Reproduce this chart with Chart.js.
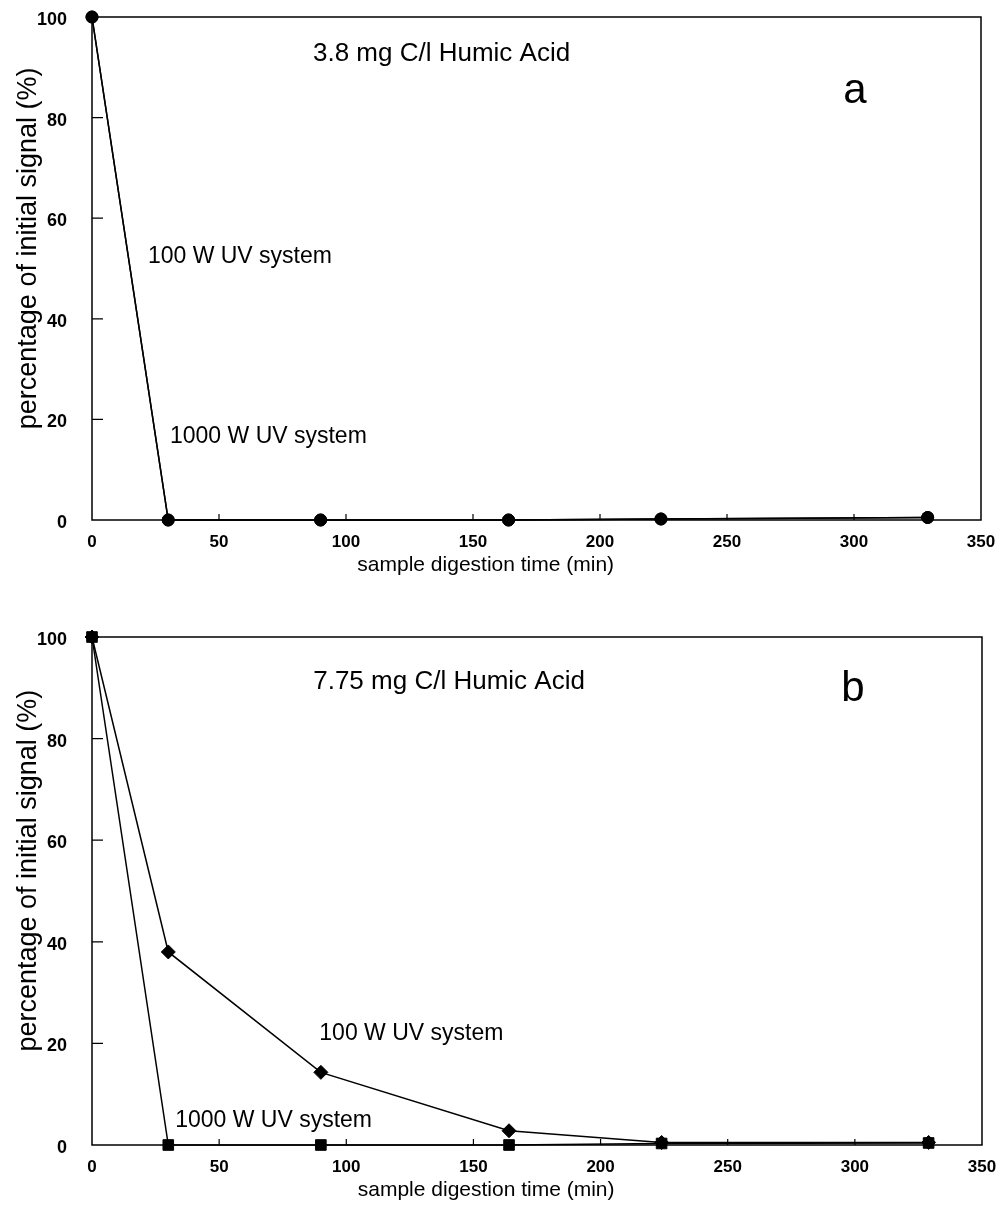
<!DOCTYPE html>
<html><head><meta charset="utf-8">
<script src="https://cdn.jsdelivr.net/npm/chart.js@4.4.0/dist/chart.umd.min.js"></script>
<style>
html,body{margin:0;padding:0;background:#fff;}
#wrap{position:relative;width:1004px;height:1223px;background:#fff;}
.pane{position:absolute;left:0;width:1004px;}
</style></head><body>
<div id="wrap">
  <div class="pane" style="top:0;height:600px"><canvas id="ca"></canvas></div>
  <div class="pane" style="top:600px;height:623px"><canvas id="cb"></canvas></div>
</div>
<script>
// ---- data ----
const digestionTime = [0, 30, 90, 164, 224, 329];
const a100W  = [100, 0, 0, 0, 0.2, 0.5];
const a1000W = [100, 0, 0, 0, 0.2, 0.5];
const b100W  = [100, 38, 14.3, 2.8, 0.5, 0.5];
const b1000W = [100, 0, 0, 0, 0.3, 0.4];
const xTickValues = [0, 50, 100, 150, 200, 250, 300, 350];
const yTickValues = [0, 20, 40, 60, 80, 100];
const xTitle = 'sample digestion time (min)';
const yTitle = 'percentage of initial signal (%)';

const FONT = "'Liberation Sans', Arial, Helvetica, sans-serif";

function pts(xs, ys) { return xs.map((x, i) => ({x: x, y: ys[i]})); }

function decorPlugin(notes) {
  return {
    id: 'decor',
    beforeDatasetsDraw(chart) {
      const {ctx, chartArea: ca, scales: {x, y}} = chart;
      ctx.save();
      ctx.strokeStyle = '#000';
      ctx.lineWidth = 1.5;
      ctx.strokeRect(ca.left, ca.top, ca.right - ca.left, ca.bottom - ca.top);
      ctx.lineWidth = 1.2;
      ctx.beginPath();
      x.ticks.forEach(t => {
        if (t.value > x.min && t.value < x.max) {
          const px = x.getPixelForValue(t.value);
          ctx.moveTo(px, ca.bottom); ctx.lineTo(px, ca.bottom - 6);
        }
      });
      y.ticks.forEach(t => {
        if (t.value > y.min && t.value < y.max) {
          const py = y.getPixelForValue(t.value);
          ctx.moveTo(ca.left, py); ctx.lineTo(ca.left + 11, py);
        }
      });
      ctx.stroke();
      ctx.restore();
    },
    afterDraw(chart) {
      const {ctx, chartArea: ca, scales: {x, y}} = chart;
      ctx.save();
      ctx.fillStyle = '#000';
      notes.forEach(n => {
        ctx.font = n.size + 'px ' + FONT;
        ctx.textAlign = n.align || 'left';
        ctx.textBaseline = 'alphabetic';
        ctx.fillText(n.text, x.getPixelForValue(n.x), y.getPixelForValue(n.y));
      });
      // axis titles
      ctx.font = '21px ' + FONT;
      ctx.textAlign = 'center';
      ctx.fillText(xTitle, x.getPixelForValue(155), ca.bottom + 51);
      ctx.translate(36, y.getPixelForValue(54));
      ctx.rotate(-Math.PI / 2);
      ctx.font = '27px ' + FONT;
      ctx.fillText(yTitle, 0, 0);
      ctx.restore();
    }
  };
}

function makeChart(id, s100, s1000, marker100, marker1000, r100, r1000, pad, xAxisH, notes) {
  const ds = (data, style, r) => ({
    data: pts(digestionTime, data),
    borderColor: '#000', backgroundColor: '#000',
    borderWidth: 1.5, tension: 0,
    pointStyle: style, pointRadius: r, pointHoverRadius: r,
    pointBorderWidth: 1, clip: false
  });
  return new Chart(document.getElementById(id), {
    type: 'line',
    data: { datasets: [ ds(s100, marker100, r100), ds(s1000, marker1000, r1000) ] },
    options: {
      responsive: true, maintainAspectRatio: false, animation: false,
      layout: { padding: pad },
      plugins: { legend: {display: false}, tooltip: {enabled: false} },
      scales: {
        x: {
          type: 'linear', min: 0, max: 350,
          afterBuildTicks: s => { s.ticks = xTickValues.map(v => ({value: v})); },
          afterFit: s => { s.height = xAxisH; },
          grid: {display: false, drawTicks: true, tickLength: 12},
          border: {display: false},
          ticks: { color: '#000', padding: 0, maxRotation: 0, autoSkip: false,
                   font: {family: FONT, size: 17, weight: 'bold'} }
        },
        y: {
          type: 'linear', min: 0, max: 100,
          afterBuildTicks: s => { s.ticks = yTickValues.map(v => ({value: v})); },
          afterFit: s => { s.width = 92; },
          grid: {display: false, drawTicks: true, tickLength: 25},
          border: {display: false},
          ticks: { color: '#000', padding: 0, labelOffset: 3, autoSkip: false,
                   font: {family: FONT, size: 18, weight: 'bold'} }
        }
      }
    },
    plugins: [decorPlugin(notes)]
  });
}

makeChart('ca', a100W, a1000W, 'circle', 'circle', 6, 6,
  {top: 17, right: 23, left: 0, bottom: 0}, 80, [
    {text: '3.8 mg C/l Humic Acid', x: 87, y: 91.3, size: 26},
    {text: 'a', x: 300.4, y: 82.9, size: 42, align: 'center'},
    {text: '100 W UV system', x: 22, y: 51.1, size: 23},
    {text: '1000 W UV system', x: 30.7, y: 15.3, size: 23}
  ]);

makeChart('cb', b100W, b1000W, 'rectRot', 'rect', 7, 7.5,
  {top: 37, right: 22, left: 0, bottom: 0}, 78, [
    {text: '7.75 mg C/l Humic Acid', x: 87, y: 89.8, size: 26},
    {text: 'b', x: 299.2, y: 87.5, size: 42, align: 'center'},
    {text: '100 W UV system', x: 89.4, y: 20.7, size: 23},
    {text: '1000 W UV system', x: 32.7, y: 3.5, size: 23}
  ]);
</script>
</body></html>
